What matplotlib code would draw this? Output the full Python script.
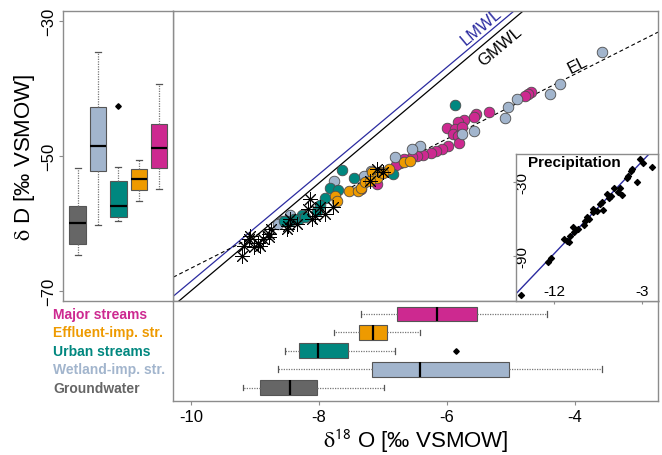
"""Stable isotope plot: dD vs d18O with marginal boxplots and precipitation inset."""
import numpy as np
import matplotlib
matplotlib.use("Agg")
import matplotlib.pyplot as plt
from matplotlib.transforms import blended_transform_factory

plt.rcParams["font.family"] = ["Liberation Sans", "DejaVu Sans"]
plt.rcParams["mathtext.fontset"] = "stix"

GROUPS = ["Groundwater", "Wetland-imp. str.", "Urban streams",
          "Effluent-imp. str.", "Major streams"]
COLORS = ["#666666", "#A2B5CD", "#00877F", "#EE9A00", "#CD2990"]

# marginal box statistics: whislo, q1, med, q3, whishi
D18O_BOX = [
    [-9.19, -8.92, -8.46, -8.03, -6.99],
    [-8.65, -7.17, -6.42, -5.03, -3.57],
    [-8.54, -8.31, -8.02, -7.55, -6.82],
    [-7.77, -7.375, -7.16, -6.94, -6.42],
    [-7.35, -6.78, -6.16, -5.53, -4.43],
]
D18O_FLIERS = [[], [], [-5.86], [], []]
D2H_BOX = [
    [-64.73, -63.09, -60.01, -57.44, -51.84],
    [-60.31, -52.29, -48.53, -42.78, -34.56],
    [-59.72, -59.03, -57.49, -53.73, -51.70],
    [-56.75, -55.02, -53.38, -51.99, -50.66],
    [-54.96, -51.75, -48.87, -45.30, -39.36],
]
D2H_FLIERS = [[], [], [-42.59], [], []]

# samples
gw_x = [-9.21, -9.18, -9.10, -9.08, -9.02, -8.95, -8.92, -8.87, -8.79, -8.78,
        -8.75, -8.50, -8.48, -8.45, -8.35, -8.17, -8.14, -8.11, -8.06, -7.98,
        -7.91, -7.78, -7.20, -7.10, -7.00]
gw_y = [-64.8, -63.3, -62.3, -61.9, -63.5, -62.9, -63.3, -62.3, -61.6, -62.0,
        -60.9, -60.9, -60.4, -59.3, -60.1, -57.9, -56.4, -59.4, -58.9, -57.6,
        -58.6, -57.6, -53.7, -51.9, -52.4]
wet_x = [-3.58, -4.23, -4.39, -4.91, -5.04, -5.09, -5.58, -5.77, -6.42, -6.54,
         -6.81, -7.19, -7.15, -7.30, -7.76, -8.45, -8.58, -8.64]
wet_y = [-34.6, -39.3, -40.8, -41.6, -42.7, -44.4, -46.3, -46.7, -48.5, -49.0,
         -50.1, -52.2, -52.5, -53.0, -53.7, -58.8, -59.6, -60.1]
urb_x = [-5.875, -6.84, -7.64, -7.45, -7.83, -7.70, -7.91, -8.03, -7.98, -8.27,
         -8.32, -8.40, -8.46, -8.55, -8.22]
urb_y = [-42.4, -52.7, -52.05, -53.3, -54.8, -55.0, -56.2, -58.1, -57.3, -58.8,
         -59.3, -59.4, -59.6, -59.6, -59.0]
eff_x = [-7.75, -7.72, -7.53, -7.39, -7.34, -7.28, -7.18, -7.10, -7.05, -7.20,
         -6.68, -6.58, -6.91, -7.00]
eff_y = [-55.9, -56.7, -55.2, -55.2, -54.7, -53.9, -52.4, -53.2, -52.4, -53.7,
         -50.95, -50.7, -52.0, -52.5]
maj_x = [-4.68, -4.73, -4.78, -5.35, -5.54, -5.57, -5.74, -5.82, -6.00, -5.87,
         -5.77, -5.90, -5.82, -5.81, -5.98, -6.08, -6.17, -6.25, -6.37, -6.47,
         -6.55, -6.67, -6.73, -6.79, -7.10, -7.35]
maj_y = [-40.55, -40.8, -41.1, -43.4, -43.8, -44.2, -44.7, -44.9, -45.9, -46.0,
         -45.7, -46.7, -47.0, -48.0, -48.5, -48.9, -49.3, -49.6, -49.8, -50.0,
         -50.2, -50.5, -51.0, -51.4, -54.2, -54.9]

precip_x = [-15.42, -12.65, -12.31, -10.94, -10.70, -10.43, -10.33, -10.02, -9.57,
            -8.92, -8.82, -8.64, -8.38, -7.97, -7.62, -7.28, -7.10, -6.94, -6.59,
            -6.15, -5.40, -5.22, -5.05, -4.54, -4.37, -4.09, -3.96, -3.51, -3.17,
            -2.83, -1.97, -9.90, -8.00, -6.40, -5.80]
precip_y = [-121.1, -94.9, -91.6, -76.0, -77.3, -78.2, -73.3, -66.5, -67.9,
            -64.6, -61.1, -58.4, -59.7, -54.3, -53.0, -47.6, -45.7, -52.4, -39.5,
            -40.9, -38.1, -34.9, -40.3, -26.7, -24.6, -20.6, -19.2, -29.5, -11.1,
            -14.4, -17.8, -70.5, -52.0, -42.5, -34.5]

# water lines: slope, intercept
GMWL = (8.0, 10.0)
LMWL = (7.95, 10.9)
EL = (4.8, -18.65)
LMWL_PRECIP = (8.3, 11.6)

XLIM = (-10.28, -2.70)
YLIM = (-71.49, -28.47)
FRAME = "#8c8c8c"
W, H = 662, 456


def style_boxes(res, colors):
    for box, c in zip(res["boxes"], colors):
        box.set_facecolor(c)
        box.set_edgecolor("#555555")
        box.set_linewidth(0.8)


def make_stats(box, fliers):
    return [dict(whislo=b[0], q1=b[1], med=b[2], q3=b[3], whishi=b[4], fliers=f)
            for b, f in zip(box, fliers)]


def rect(x0, y0, x1, y1):
    return [x0 / W, 1 - y1 / H, (x1 - x0) / W, (y1 - y0) / H]


def line_label(ax, text, line, x, offset_px, color):
    # put a label parallel to a line, shifted along its normal (screen pixels)
    slope, icpt = line
    bb = ax.get_position()
    sx = bb.width * W / (XLIM[1] - XLIM[0])
    sy = bb.height * H / (YLIM[1] - YLIM[0])
    ang = np.arctan(slope * sy / sx)
    dx, dy = -np.sin(ang) * offset_px, np.cos(ang) * offset_px
    ax.annotate(text, xy=(x, slope * x + icpt), xytext=(dx, dy),
                textcoords="offset pixels", rotation=np.degrees(ang),
                rotation_mode="anchor", ha="center", va="center",
                fontsize=12, color=color)


def main():
    fig = plt.figure(figsize=(W / 100, H / 100), dpi=100)

    ax = fig.add_axes(rect(173.3, 12, 658, 301.7))
    ax_l = fig.add_axes(rect(63.3, 12, 173.3, 301.7))
    ax_b = fig.add_axes(rect(173.3, 301.7, 658, 401.7))
    ax_in = fig.add_axes(rect(515.7, 155, 658, 301.7))

    bprops = dict(patch_artist=True, showfliers=True, widths=0.8, capwidths=0.3,
                  whiskerprops=dict(color="#777777", linestyle=(0, (1, 1)), linewidth=0.9),
                  capprops=dict(color="#555555", linewidth=0.9),
                  medianprops=dict(color="black", linewidth=1.6),
                  flierprops=dict(marker="D", markerfacecolor="black",
                                  markeredgecolor="black", markersize=2.8))

    # --- main scatter ---
    xs = np.array(XLIM)
    ax.plot(xs, GMWL[0] * xs + GMWL[1], color="black", lw=0.9)
    ax.plot(xs, LMWL[0] * xs + LMWL[1], color="#2B2BA0", lw=0.9)
    ax.plot(xs, EL[0] * xs + EL[1], color="black", lw=0.8, ls=(0, (3.5, 2.5)))

    circ = dict(s=58, edgecolors="#4d4d4d", linewidths=0.6, zorder=3)
    ax.scatter(maj_x, maj_y, color=COLORS[4], **circ)
    ax.scatter(wet_x, wet_y, color=COLORS[1], **circ)
    ax.scatter(urb_x, urb_y, color=COLORS[2], **circ)
    ax.scatter(eff_x, eff_y, color=COLORS[3], **circ)
    ax.scatter(gw_x, gw_y, marker=(8, 2, 0), s=100, color="black",
               linewidths=0.7, zorder=4)

    ax.set_xlim(XLIM)
    ax.set_ylim(YLIM)
    ax.tick_params(left=False, bottom=False, labelleft=False, labelbottom=False)

    line_label(ax, "LMWL", LMWL, -5.37, 9, "#2B2BA0")
    line_label(ax, "GMWL", GMWL, -5.29, -11.5, "black")
    line_label(ax, "EL", EL, -3.91, 7.5, "black")

    # --- left marginal (dD) ---
    res = ax_l.bxp(make_stats(D2H_BOX, D2H_FLIERS), positions=range(1, 6), **bprops)
    style_boxes(res, COLORS)
    ax_l.set_xlim(0.30, 5.69)
    ax_l.set_ylim(YLIM)
    ax_l.set_xticks([])
    ax_l.set_yticks([-30, -50, -70])
    ax_l.tick_params(axis="y", direction="out", length=3, color=FRAME,
                     labelsize=12, pad=2)
    for t in ax_l.get_yticklabels():
        t.set_rotation(90)
        t.set_va("center")
    fig.text(25 / W, 1 - 157 / H, r"$\mathrm{\delta}$ D [‰ VSMOW]",
             rotation=90, ha="center", va="center", fontsize=16)

    # --- bottom marginal (d18O) ---
    res = ax_b.bxp(make_stats(D18O_BOX, D18O_FLIERS), positions=range(1, 6),
                   orientation="horizontal", **bprops)
    style_boxes(res, COLORS)
    ax_b.set_xlim(XLIM)
    ax_b.set_ylim(0.29, 5.72)
    ax_b.set_yticks([])
    ax_b.set_xticks([-10, -8, -6, -4])
    ax_b.set_xticklabels(["-10", "-8", "-6", "-4"])
    ax_b.tick_params(axis="x", direction="out", length=3, color=FRAME,
                     labelsize=12, pad=3)
    ax_b.set_xlabel(r"$\mathrm{\delta}^{\mathsf{18}}$ O [‰ VSMOW]", fontsize=16,
                    labelpad=2)
    trans = blended_transform_factory(fig.transFigure, ax_b.transData)
    for i, (name, c) in enumerate(zip(GROUPS, COLORS)):
        ax_b.text(53.3 / W, i + 1, name, color=c, transform=trans, fontsize=10,
                  fontweight="bold", ha="left", va="center")

    # --- precipitation inset ---
    xi = np.array([-16.5, -0.5])
    ax_in.plot(xi, LMWL_PRECIP[0] * xi + LMWL_PRECIP[1], color="#2B2BA0", lw=1.0)
    ax_in.scatter(precip_x, precip_y, marker="D", s=9, color="black", zorder=3)
    ax_in.set_xlim(-15.93, -1.33)
    ax_in.set_ylim(-126.0, -7.05)
    ax_in.set_xticks([-12, -3])
    ax_in.set_xticklabels(["-12", "-3"])
    ax_in.set_yticks([-90, -30])
    ax_in.set_yticklabels(["-90", "-30"])
    ax_in.tick_params(axis="x", direction="out", length=2, color=FRAME,
                      labelsize=11, pad=-14)
    ax_in.tick_params(axis="y", direction="out", length=2, color=FRAME,
                      labelsize=11, pad=-12)
    for t in ax_in.get_yticklabels():
        t.set_rotation(90)
        t.set_va("center")
    ax_in.text(0.084, 0.948, "Precipitation", transform=ax_in.transAxes,
               fontsize=11, fontweight="bold", ha="left", va="center")

    for a in (ax, ax_l, ax_b, ax_in):
        for s in a.spines.values():
            s.set_color(FRAME)
            s.set_linewidth(1.0)

    fig.savefig("out.png", dpi=100)
    plt.close(fig)


if __name__ == "__main__":
    main()
